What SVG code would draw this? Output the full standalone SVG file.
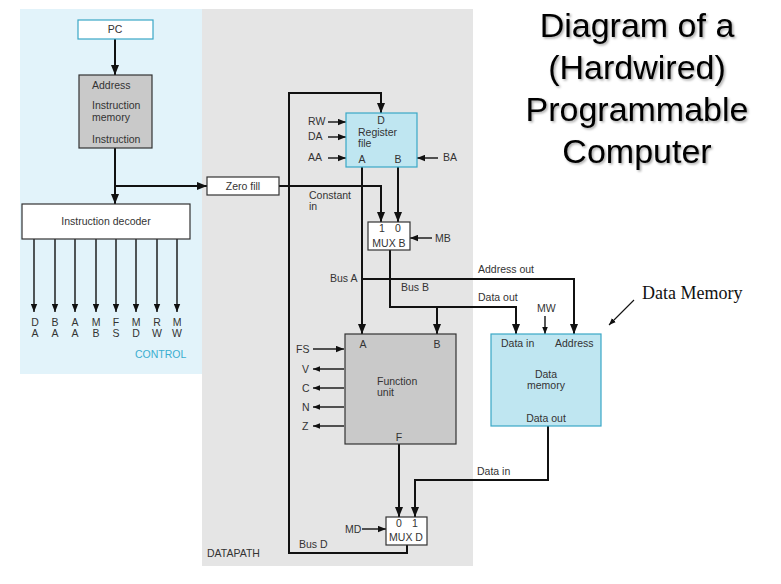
<svg xmlns="http://www.w3.org/2000/svg" width="781" height="584" viewBox="0 0 781 584">
<defs>
<marker id="big" viewBox="0 0 10 8" refX="10" refY="4" markerWidth="10" markerHeight="8" markerUnits="userSpaceOnUse" orient="auto"><path d="M0,0 L10,4 L0,8 z" fill="#111"/></marker>
<marker id="sm" viewBox="0 0 10 8" refX="10" refY="4" markerWidth="8" markerHeight="7" markerUnits="userSpaceOnUse" orient="auto"><path d="M0,0 L10,4 L0,8 z" fill="#111"/></marker>
<marker id="thin" viewBox="0 0 10 8" refX="10" refY="4" markerWidth="7" markerHeight="6" markerUnits="userSpaceOnUse" orient="auto"><path d="M0,0 L10,4 L0,8 z" fill="#111"/></marker>
<filter id="shadow" x="-10%" y="-10%" width="120%" height="130%"><feDropShadow dx="1.5" dy="1.5" stdDeviation="0.8" flood-color="#000" flood-opacity="0.35"/></filter>
</defs>
<style>
text{font-family:"Liberation Sans",Arial,sans-serif;font-size:10.5px;fill:#333}
.c{text-anchor:middle}
.bus{fill:none;stroke:#111;stroke-width:2}
.ctl{fill:none;stroke:#111;stroke-width:1.4}
.wbox{fill:#fff;stroke:#333;stroke-width:1.2}
.gbox{fill:#c9c9c9;stroke:#333;stroke-width:1.2}
.bbox{fill:#bfe6f1;stroke:#3aa7c6;stroke-width:1.2}
.title{font-size:34px;fill:#000;text-anchor:middle}
</style>
<rect width="781" height="584" fill="#fff"/>
<g id="control-area"><rect x="20" y="9" width="182" height="365" fill="#e2f3fa"/><text x="135" y="358" style="fill:#3aaed0">CONTROL</text></g>
<g id="datapath-area"><rect x="202" y="9" width="271" height="557" fill="#e5e5e5"/><text x="207" y="557">DATAPATH</text></g>

<g id="connectors">
<path class="bus" d="M115,39 V75" marker-end="url(#big)"/>
<path class="bus" d="M115,148 V204" marker-end="url(#big)"/>
<path class="bus" d="M115,186 H207" marker-end="url(#big)"/>
<path class="ctl" d="M34,239 V312" marker-end="url(#sm)"/>
<path class="ctl" d="M55,239 V312" marker-end="url(#sm)"/>
<path class="ctl" d="M75,239 V312" marker-end="url(#sm)"/>
<path class="ctl" d="M96,239 V312" marker-end="url(#sm)"/>
<path class="ctl" d="M116,239 V312" marker-end="url(#sm)"/>
<path class="ctl" d="M136,239 V312" marker-end="url(#sm)"/>
<path class="ctl" d="M157,239 V312" marker-end="url(#sm)"/>
<path class="ctl" d="M177,239 V312" marker-end="url(#sm)"/>
<path class="bus" d="M279,186 H381 V222" marker-end="url(#big)"/>
<path class="bus" d="M407,545 V553 H289 V93 H381 V113" marker-end="url(#big)"/>
<path class="ctl" d="M328,122 H346" marker-end="url(#sm)"/>
<path class="ctl" d="M328,137 H346" marker-end="url(#sm)"/>
<path class="ctl" d="M328,158 H346" marker-end="url(#sm)"/>
<path class="ctl" d="M438,158 H417" marker-end="url(#sm)"/>
<path class="bus" d="M398,167 V222" marker-end="url(#big)"/>
<path class="ctl" d="M432,238 H410" marker-end="url(#sm)"/>
<path class="bus" d="M362,167 V334" marker-end="url(#big)"/>
<path class="bus" d="M362,279 H574 V334" marker-end="url(#big)"/>
<path class="bus" d="M390,250 V307 H516 V334" marker-end="url(#big)"/>
<path class="bus" d="M437,307 V334" marker-end="url(#big)"/>
<path class="ctl" d="M545,316 V334" marker-end="url(#thin)"/>
<path class="ctl" d="M313,349 H344" marker-end="url(#sm)"/>
<path class="ctl" d="M344,369 H313" marker-end="url(#thin)"/>
<path class="ctl" d="M344,388 H313" marker-end="url(#thin)"/>
<path class="ctl" d="M344,407 H313" marker-end="url(#thin)"/>
<path class="ctl" d="M344,426 H313" marker-end="url(#thin)"/>
<path class="bus" d="M399,444 V517" marker-end="url(#big)"/>
<path class="bus" d="M548,426 V480 H415 V517" marker-end="url(#big)"/>
<path class="ctl" d="M362,529 H386" marker-end="url(#sm)"/>
<path d="M634,300 L609,325" fill="none" stroke="#111" stroke-width="1.1" marker-end="url(#thin)"/>
</g>

<g id="labels">
<text x="35" y="326" class="c">D</text><text x="35" y="337" class="c">A</text>
<text x="55" y="326" class="c">B</text><text x="55" y="337" class="c">A</text>
<text x="75" y="326" class="c">A</text><text x="75" y="337" class="c">A</text>
<text x="96" y="326" class="c">M</text><text x="96" y="337" class="c">B</text>
<text x="116" y="326" class="c">F</text><text x="116" y="337" class="c">S</text>
<text x="136" y="326" class="c">M</text><text x="136" y="337" class="c">D</text>
<text x="157" y="326" class="c">R</text><text x="157" y="337" class="c">W</text>
<text x="177" y="326" class="c">M</text><text x="177" y="337" class="c">W</text>
<text x="308" y="125">RW</text>
<text x="308" y="140">DA</text>
<text x="308" y="161">AA</text>
<text x="443" y="161">BA</text>
<text x="309" y="199">Constant</text>
<text x="309" y="210">in</text>
<text x="435" y="242">MB</text>
<text x="330" y="282">Bus A</text>
<text x="401" y="291">Bus B</text>
<text x="478" y="273">Address out</text>
<text x="478" y="301">Data out</text>
<text x="537" y="312">MW</text>
<text x="296" y="353">FS</text>
<text x="302" y="373">V</text>
<text x="302" y="392">C</text>
<text x="302" y="411">N</text>
<text x="302" y="430">Z</text>
<text x="477" y="475">Data in</text>
<text x="345" y="533">MD</text>
<text x="299" y="548">Bus D</text>
</g>

<g id="pc"><rect class="bbox" x="78" y="20" width="75" height="19" style="fill:#fff"/><text x="115" y="33" class="c">PC</text></g>
<g id="instruction-memory"><rect class="gbox" x="79" y="75" width="73" height="73"/><text x="92" y="89">Address</text><text x="92" y="109">Instruction</text><text x="92" y="121">memory</text><text x="92" y="143">Instruction</text></g>
<g id="instruction-decoder"><rect class="wbox" x="22" y="204" width="168" height="35"/><text x="106" y="225" class="c">Instruction decoder</text></g>
<g id="zero-fill"><rect class="wbox" x="207" y="177" width="72" height="18"/><text x="243" y="190" class="c">Zero fill</text></g>
<g id="register-file"><rect class="bbox" x="346" y="113" width="71" height="54"/><text x="381" y="124" class="c">D</text><text x="358" y="136">Register</text><text x="358" y="147">file</text><text x="362" y="163" class="c">A</text><text x="398" y="163" class="c">B</text></g>
<g id="mux-b"><rect class="wbox" x="368" y="222" width="42" height="28"/><text x="382" y="232" class="c">1</text><text x="398" y="232" class="c">0</text><text x="389" y="247" class="c">MUX B</text></g>
<g id="function-unit"><rect class="gbox" x="345" y="334" width="111" height="110"/><text x="363" y="348" class="c">A</text><text x="437" y="348" class="c">B</text><text x="377" y="385">Function</text><text x="377" y="396">unit</text><text x="399" y="441" class="c">F</text></g>
<g id="data-memory"><rect class="bbox" x="491" y="334" width="110" height="92"/><text x="501" y="347">Data in</text><text x="555" y="347">Address</text><text x="546" y="378" class="c">Data</text><text x="546" y="389" class="c">memory</text><text x="546" y="422" class="c">Data out</text></g>
<g id="mux-d"><rect class="wbox" x="386" y="517" width="41" height="28"/><text x="399" y="527" class="c">0</text><text x="415" y="527" class="c">1</text><text x="406" y="541" class="c">MUX D</text></g>
<g id="data-memory-note"><text x="642" y="299" style="font-family:'Liberation Serif','Times New Roman',serif;font-size:18px;fill:#111">Data Memory</text></g>
<g id="title" filter="url(#shadow)"><text class="title" x="637" y="37">Diagram of a</text><text class="title" x="637" y="79">(Hardwired)</text><text class="title" x="637" y="121">Programmable</text><text class="title" x="637" y="163">Computer</text></g>
</svg>
